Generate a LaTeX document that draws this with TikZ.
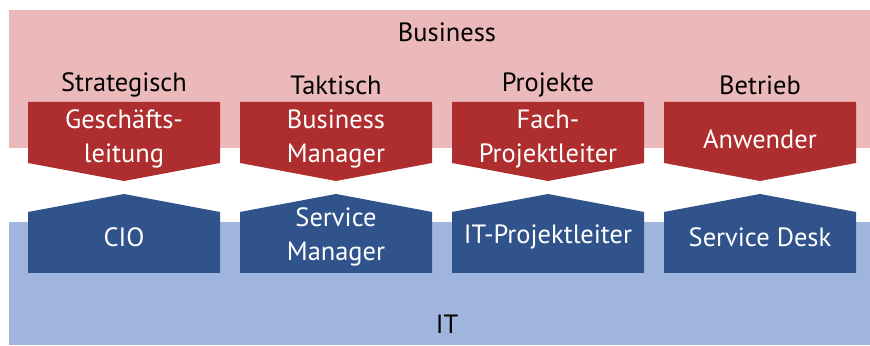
\documentclass[tikz,border=0pt]{standalone}
\usepackage{fontspec}
\setmainfont{PT Sans}
\usepackage{tikz}
\usetikzlibrary{calc,positioning}
\definecolor{busband}{HTML}{EBB9BA}
\definecolor{busbox}{HTML}{AE2E2F}
\definecolor{itband}{HTML}{9FB5DD}
\definecolor{itbox}{HTML}{30538C}
\tikzset{
	lbl/.style={inner sep=0pt,font=\fontsize{18.8}{24}\selectfont},
	boxtext/.style={lbl,text=white,align=center},
}

\begin{document}
\begin{tikzpicture}
				 %\draw[color=gray,step=1mm, help lines,opacity=0.3] (0pt,0pt) grid (217.5mm,86.25mm); %help grids
				\useasboundingbox (0,0) rectangle (217.5mm,86.25mm);
				% the two bands
				\fill[busband] (2.25mm,49.25mm) rectangle (217.5mm,83.75mm);
				\fill[itband] (2.25mm,0mm) rectangle (217.5mm,30.75mm);
				\node[lbl] (business) at (111.75mm,78.25mm) {Business};
				\node[lbl] (it) at (111.75mm,5.25mm) {IT};
				% business arrows (pointing down)
				\fill[busbox] (7mm,60.75mm)--(55mm,60.75mm)--(55mm,45.5mm)--(31mm,41mm)--(7mm,45.5mm)--cycle;
				\fill[busbox] (60mm,60.75mm)--(108mm,60.75mm)--(108mm,45.5mm)--(84mm,41mm)--(60mm,45.5mm)--cycle;
				\fill[busbox] (113mm,60.75mm)--(161mm,60.75mm)--(161mm,45.5mm)--(137mm,41mm)--(113mm,45.5mm)--cycle;
				\fill[busbox] (166mm,60.75mm)--(214mm,60.75mm)--(214mm,45.5mm)--(190mm,41mm)--(166mm,45.5mm)--cycle;
				% IT arrows (pointing up)
				\fill[itbox] (7mm,18mm)--(55mm,18mm)--(55mm,33.25mm)--(31mm,37.75mm)--(7mm,33.25mm)--cycle;
				\fill[itbox] (60mm,18mm)--(108mm,18mm)--(108mm,33.25mm)--(84mm,37.75mm)--(60mm,33.25mm)--cycle;
				\fill[itbox] (113mm,18mm)--(161mm,18mm)--(161mm,33.25mm)--(137mm,37.75mm)--(113mm,33.25mm)--cycle;
				\fill[itbox] (166mm,18mm)--(214mm,18mm)--(214mm,33.25mm)--(190mm,37.75mm)--(166mm,33.25mm)--cycle;
				% column heads
				\node[lbl] (strat) at (31mm,65mm) {Strategisch};
				\node[lbl] (takt) at (84mm,65mm) {Taktisch};
				\node[lbl] (proj) at (137mm,65mm) {Projekte};
				\node[lbl] (betr) at (190mm,65mm) {Betrieb};
				% roles
				\node[boxtext] (gl) at (31mm,51.5mm) {Geschäfts-\\leitung};
				\node[boxtext] (bm) at (84mm,51.5mm) {Business\\Manager};
				\node[boxtext] (fpl) at (137mm,51.5mm) {Fach-\\Projektleiter};
				\node[boxtext] (anw) at (190mm,51.5mm) {Anwender};
				\node[boxtext] (cio) at (31mm,27mm) {CIO};
				\node[boxtext] (sm) at (84mm,27mm) {Service\\Manager};
				\node[boxtext] (itpl) at (137mm,27mm) {IT-Projektleiter};
				\node[boxtext] (sd) at (190mm,27mm) {Service Desk};
\end{tikzpicture}
\end{document}
